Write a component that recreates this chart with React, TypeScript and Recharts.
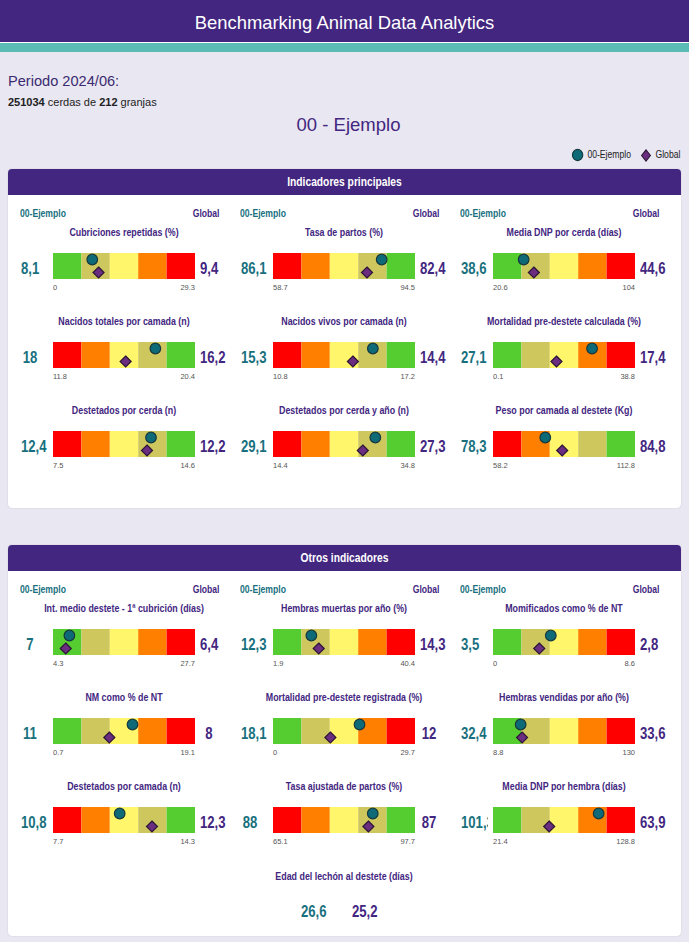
import React from "react";
import { ComposedChart, Bar, XAxis, YAxis, ReferenceDot } from "recharts";

const PURPLE = "#43267f";
const TEAL = "#5bbcb5";
const FARM_TXT = "#18707e";
const BG = "#e9e7f1";
const SANS = '"Liberation Sans", Arial, sans-serif';
const SQUEEZE = 0.82; // the dashboard uses a narrow face

// bands from worst to best
const BANDS_HIGH = ["#ff0000", "#ff8000", "#fff66b", "#cdc75e", "#55cc30"];
const BANDS_LOW = [...BANDS_HIGH].reverse();

// Indicadores principales
const mainTitles = [
  "Cubriciones repetidas (%)",
  "Tasa de partos (%)",
  "Media DNP por cerda (días)",
  "Nacidos totales por camada (n)",
  "Nacidos vivos por camada (n)",
  "Mortalidad pre-destete calculada (%)",
  "Destetados por cerda (n)",
  "Destetados por cerda y año (n)",
  "Peso por camada al destete (Kg)",
];
const mainFarm = [8.1, 86.1, 38.6, 18, 15.3, 27.1, 12.4, 29.1, 78.3];
const mainGlobal = [9.4, 82.4, 44.6, 16.2, 14.4, 17.4, 12.2, 27.3, 84.8];
const mainMin = [0, 58.7, 20.6, 11.8, 10.8, 0.1, 7.5, 14.4, 58.2];
const mainMax = [29.3, 94.5, 104, 20.4, 17.2, 38.8, 14.6, 34.8, 112.8];
const mainHigherBetter = [false, true, false, true, true, false, true, true, true];

// Otros indicadores
const otherTitles = [
  "Int. medio destete - 1ª cubrición (días)",
  "Hembras muertas por año (%)",
  "Momificados como % de NT",
  "NM como % de NT",
  "Mortalidad pre-destete registrada (%)",
  "Hembras vendidas por año (%)",
  "Destetados por camada (n)",
  "Tasa ajustada de partos (%)",
  "Media DNP por hembra (días)",
];
const otherFarm = [7, 12.3, 3.5, 11, 18.1, 32.4, 10.8, 88, 101.3];
const otherGlobal = [6.4, 14.3, 2.8, 8, 12, 33.6, 12.3, 87, 63.9];
const otherMin = [4.3, 1.9, 0, 0.7, 0, 8.8, 7.7, 65.1, 21.4];
const otherMax = [27.7, 40.4, 8.6, 19.1, 29.7, 130, 14.3, 97.7, 128.8];
const otherHigherBetter = [false, false, false, false, false, false, true, true, false];

const edadTitle = "Edad del lechón al destete (días)";
const edadFarm = 26.6;
const edadGlobal = 25.2;

// five equal quintile bands
const bandRow = [{ name: "g", b0: 1, b1: 1, b2: 1, b3: 1, b4: 1 }];

const fmt = (v: number) => String(v).replace(".", ",");

// narrow text block: width is given in on-screen pixels
const NText = ({
  left,
  top,
  width,
  height,
  align = "left",
  size,
  bold = true,
  color,
  children,
}: {
  left: number;
  top: number;
  width: number;
  height: number;
  align?: "left" | "center" | "right";
  size: number;
  bold?: boolean;
  color: string;
  children: React.ReactNode;
}) => (
  <div
    style={{
      position: "absolute",
      left,
      top,
      width: width / SQUEEZE,
      lineHeight: `${height}px`,
      textAlign: align,
      whiteSpace: "nowrap",
      fontFamily: SANS,
      fontWeight: bold ? "bold" : "normal",
      fontSize: size,
      color,
      transform: `scaleX(${SQUEEZE})`,
      transformOrigin: "0 50%",
    }}
  >
    {children}
  </div>
);

const farmDot = (p: any) => (
  <circle cx={p.cx} cy={p.cy - 6.5} r={5.3} fill="#0f6a77" stroke="#16383e" strokeWidth={1.2} />
);
const globalDot = (p: any) => {
  const cx = p.cx;
  const cy = p.cy + 6.5;
  return (
    <polygon
      points={`${cx},${cy - 5.5} ${cx + 5.5},${cy} ${cx},${cy + 5.5} ${cx - 5.5},${cy}`}
      fill="#6a2d80"
      stroke="#2b1636"
      strokeWidth={1.2}
    />
  );
};

interface GaugeProps {
  title: string;
  farm: number;
  global: number;
  min: number;
  max: number;
  higher: boolean;
  x: number;
  top: number;
}

const Gauge = ({ title, farm, global, min, max, higher, x, top }: GaugeProps) => {
  const colors = higher ? BANDS_HIGH : BANDS_LOW;
  const tick = (p: any) => {
    const v = p.payload.value;
    return (
      <text
        x={p.x}
        y={p.y + 10.5}
        textAnchor={v === min ? "start" : "end"}
        fontSize={7.5}
        fontFamily={SANS}
        fill="#555"
      >
        {String(v)}
      </text>
    );
  };
  return (
    <>
      <NText left={x} top={top - 28} width={208} height={14} align="center" size={10.8} color={PURPLE}>
        {title}
      </NText>
      <div style={{ position: "absolute", left: x, top: top + 2, width: 27.5, height: 27, overflow: "hidden" }}>
        <NText left={0.5} top={0} width={18} height={27} align="center" size={16} color={FARM_TXT}>
          {fmt(farm)}
        </NText>
      </div>
      <NText left={x + 180} top={top + 2} width={18} height={27} align="center" size={16} color={PURPLE}>
        {fmt(global)}
      </NText>
      <div style={{ position: "absolute", left: x + 32, top }}>
        <ComposedChart
          width={144}
          height={46}
          data={bandRow}
          layout="vertical"
          margin={{ top: 0, right: 1, bottom: 0, left: 1 }}
          barCategoryGap={0}
        >
          <XAxis
            xAxisId="val"
            type="number"
            domain={[min, max]}
            allowDataOverflow
            ticks={[min, max]}
            interval={0}
            height={20}
            axisLine={false}
            tickLine={false}
            tickSize={0}
            tickMargin={0}
            tick={tick}
          />
          <XAxis xAxisId="band" type="number" domain={[0, 5]} orientation="top" height={0} hide />
          <YAxis
            yAxisId="cat"
            type="category"
            dataKey="name"
            width={0}
            tick={false}
            tickLine={false}
            axisLine={{ stroke: "#b9c7dd" }}
          />
          {colors.map((c, i) => (
            <Bar
              key={i}
              dataKey={`b${i}`}
              xAxisId="band"
              yAxisId="cat"
              stackId="s"
              fill={c}
              isAnimationActive={false}
            />
          ))}
          <ReferenceDot xAxisId="val" yAxisId="cat" x={farm} y="g" shape={farmDot} ifOverflow="visible" />
          <ReferenceDot xAxisId="val" yAxisId="cat" x={global} y="g" shape={globalDot} ifOverflow="visible" />
        </ComposedChart>
      </div>
    </>
  );
};

interface CardProps {
  top: number;
  height: number;
  title: string;
  titles: string[];
  farm: number[];
  global: number[];
  min: number[];
  max: number[];
  higher: boolean[];
  children?: React.ReactNode;
}

const Card = ({ top, height, title, titles, farm, global, min, max, higher, children }: CardProps) => {
  const colX = [20, 240, 460];
  return (
    <>
      <div
        style={{
          position: "absolute",
          left: 8,
          top,
          width: 673,
          height,
          background: "#fff",
          borderRadius: 4,
          boxShadow: "0 0 1px rgba(60,40,110,0.35)",
        }}
      />
      <div
        style={{
          position: "absolute",
          left: 8,
          top,
          width: 673,
          height: 25.5,
          background: PURPLE,
          borderRadius: "4px 4px 0 0",
        }}
      />
      <NText left={8} top={top} width={673} height={26} align="center" size={12.5} color="#fff">
        {title}
      </NText>
      {colX.map((x) => (
        <React.Fragment key={x}>
          <NText left={x} top={top + 37} width={60} height={14} size={10.5} color={FARM_TXT}>
            00-Ejemplo
          </NText>
          <NText left={x + 140} top={top + 37} width={59.5} height={14} align="right" size={10.5} color={PURPLE}>
            Global
          </NText>
        </React.Fragment>
      ))}
      {titles.map((t, i) => (
        <Gauge
          key={t}
          title={t}
          farm={farm[i]}
          global={global[i]}
          min={min[i]}
          max={max[i]}
          higher={higher[i]}
          x={colX[i % 3]}
          top={top + 83.5 + Math.floor(i / 3) * 89.3}
        />
      ))}
      {children}
    </>
  );
};

const App = () => {
  return (
    <div
      style={{
        position: "absolute",
        left: 0,
        top: 0,
        width: 689,
        height: 942,
        background: BG,
        overflow: "hidden",
        fontFamily: SANS,
      }}
    >
      <div
        style={{
          position: "absolute",
          left: 0,
          top: 0,
          width: 689,
          height: 41.7,
          background: PURPLE,
          color: "#fff",
          textAlign: "center",
          fontSize: 18.4,
          lineHeight: "46px",
        }}
      >
        Benchmarking Animal Data Analytics
      </div>
      <div style={{ position: "absolute", left: 0, top: 41.7, width: 689, height: 1.6, background: "#fff" }} />
      <div style={{ position: "absolute", left: 0, top: 43.3, width: 689, height: 8.4, background: TEAL }} />

      <div style={{ position: "absolute", left: 8, top: 72, lineHeight: "18px", fontSize: 14.6, color: "#3b2b70" }}>
        Periodo 2024/06:
      </div>
      <div style={{ position: "absolute", left: 8, top: 95, lineHeight: "14px", fontSize: 11, color: "#222" }}>
        <b>251034</b> cerdas de <b>212</b> granjas
      </div>
      <div
        style={{
          position: "absolute",
          left: 8,
          width: 681,
          top: 113,
          lineHeight: "24px",
          textAlign: "center",
          fontSize: 18.5,
          color: PURPLE,
        }}
      >
        00 - Ejemplo
      </div>

      <svg style={{ position: "absolute", left: 565, top: 145 }} width={124} height={20}>
        <ellipse cx={12.6} cy={10} rx={5.2} ry={5.6} fill="#0f6a77" stroke="#16383e" strokeWidth={1.1} />
        <text transform={`translate(22.4,13.4) scale(${SQUEEZE},1)`} fontSize={10.5} fontFamily={SANS} fill="#222">
          00-Ejemplo
        </text>
        <polygon points="81,4.8 85.4,10.5 81,16 76.6,10.5" fill="#6a2d80" stroke="#2b1636" strokeWidth={1.1} />
        <text transform={`translate(90.5,13.4) scale(${SQUEEZE},1)`} fontSize={10.5} fontFamily={SANS} fill="#222">
          Global
        </text>
      </svg>

      <Card
        top={169}
        height={339}
        title="Indicadores principales"
        titles={mainTitles}
        farm={mainFarm}
        global={mainGlobal}
        min={mainMin}
        max={mainMax}
        higher={mainHigherBetter}
      />
      <Card
        top={545}
        height={391}
        title="Otros indicadores"
        titles={otherTitles}
        farm={otherFarm}
        global={otherGlobal}
        min={otherMin}
        max={otherMax}
        higher={otherHigherBetter}
      >
        <NText left={240} top={869} width={208} height={14} align="center" size={10.8} color={PURPLE}>
          {edadTitle}
        </NText>
        <NText left={300.7} top={898} width={30} height={27} size={16} color={FARM_TXT}>
          {fmt(edadFarm)}
        </NText>
        <NText left={351.7} top={898} width={30} height={27} size={16} color={PURPLE}>
          {fmt(edadGlobal)}
        </NText>
      </Card>
    </div>
  );
};

export default App;
